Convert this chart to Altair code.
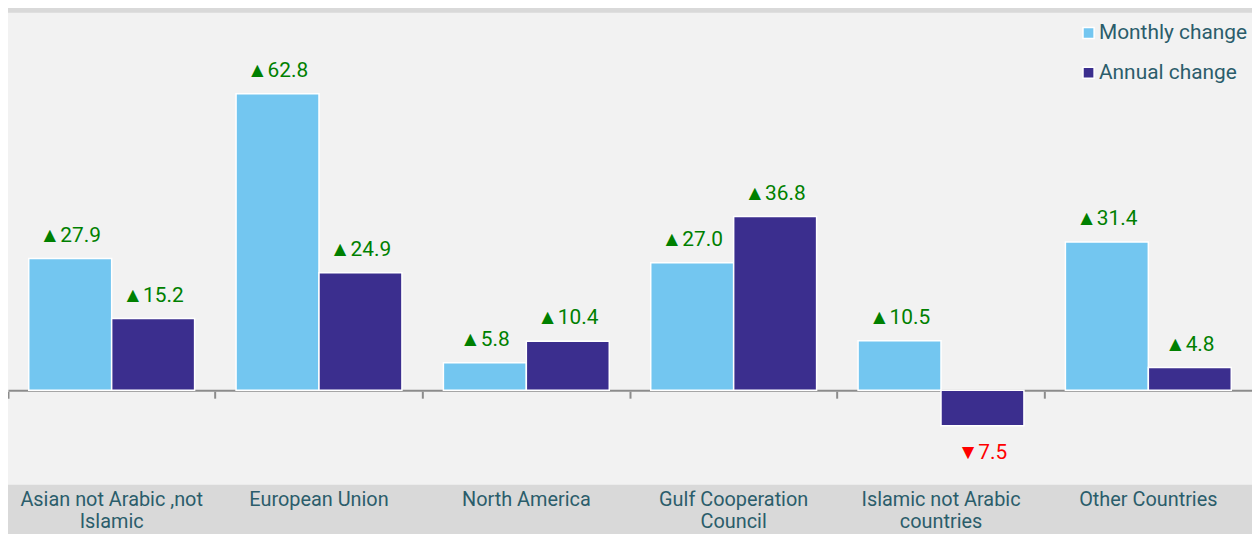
import altair as alt
import pandas as pd

categories = [
    "Asian not Arabic ,not Islamic",
    "European Union",
    "North America",
    "Gulf Cooperation Council",
    "Islamic not Arabic countries",
    "Other Countries",
]
monthly = [27.9, 62.8, 5.8, 27.0, 10.5, 31.4]
annual = [15.2, 24.9, 10.4, 36.8, -7.5, 4.8]
series_names = ["Monthly change", "Annual change"]
series_colors = ["#73c6f0", "#3b2e8e"]

wrapped = {
    "Asian not Arabic ,not Islamic": ["Asian not Arabic ,not", "Islamic"],
    "Gulf Cooperation Council": ["Gulf Cooperation", "Council"],
    "Islamic not Arabic countries": ["Islamic not Arabic", "countries"],
}

rows = []
for c, m, a in zip(categories, monthly, annual):
    rows.append({"category": c, "series": series_names[0], "value": m})
    rows.append({"category": c, "series": series_names[1], "value": a})
df = pd.DataFrame(rows)

label_expr = ""
for k, v in wrapped.items():
    arr = "[" + ",".join("'" + s + "'" for s in v) + "]"
    label_expr += f"datum.value == '{k}' ? {arr} : "
label_expr += "datum.value"

FONT = "Roboto"
TEXT_COLOR = "#2b5d6b"
AXIS_GRAY = "#8c8c8c"

x_main = alt.X(
    "category:N", sort=categories, scale=alt.Scale(paddingInner=0, paddingOuter=0),
    axis=alt.Axis(title=None, labelAngle=0, domain=False, ticks=False,
                  labelPadding=5, labelFontSize=20, labelFont=FONT,
                  labelColor=TEXT_COLOR, labelExpr=label_expr,
                  labelLineHeight=22, labelBaseline="top", labelLimit=400,
                  labelOverlap=False, orient="bottom"),
)
x_ticks = alt.X(
    "category:N", sort=categories,
    axis=alt.Axis(title=None, labels=False, domain=False, ticks=True,
                  tickSize=7, tickColor=AXIS_GRAY, tickWidth=2,
                  bandPosition=0, offset=-94, orient="bottom"),
)
x_plain = alt.X("category:N", sort=categories, axis=None)
x_off = alt.XOffset("series:N", sort=series_names,
                    scale=alt.Scale(paddingInner=0, paddingOuter=0.25))
y_enc = alt.Y("value:Q", scale=alt.Scale(domain=[-20, 80], nice=False, zero=False),
              axis=alt.Axis(values=[0], grid=True, gridColor=AXIS_GRAY, gridWidth=2,
                            labels=False, ticks=False, domain=False, title=None))

base = alt.Chart(df).transform_calculate(
    label="(datum.value >= 0 ? '▲' : '▼') + format(abs(datum.value), '.1f')",
)

bars = base.mark_bar(stroke="white", strokeWidth=1.5).encode(
    x=x_main,
    xOffset=x_off,
    y=y_enc,
    color=alt.Color(
        "series:N", sort=series_names,
        scale=alt.Scale(domain=series_names, range=series_colors),
        legend=alt.Legend(title=None, orient="none", legendX=1077, legendY=10,
                          symbolType="square", symbolSize=125,
                          symbolStrokeColor="white", symbolStrokeWidth=1.5,
                          labelFontSize=21, labelFont=FONT, labelColor=TEXT_COLOR,
                          rowPadding=18, labelOffset=0, padding=0),
    ),
)

ghost = base.mark_bar(opacity=0).encode(
    x=x_ticks,
    xOffset=x_off,
    y=y_enc,
)

pos_text = base.transform_filter("datum.value >= 0").mark_text(
    dy=-23, baseline="middle", fontSize=21, font=FONT, color="#008000"
).encode(x=x_plain, xOffset=x_off, y=y_enc, text="label:N")

neg_text = base.transform_filter("datum.value < 0").mark_text(
    dy=28, baseline="middle", fontSize=21, font=FONT, color="#ff0000"
).encode(x=x_plain, xOffset=x_off, y=y_enc, text="label:N")

chart = alt.layer(bars, ghost, pos_text, neg_text).resolve_axis(
    x="independent"
).properties(
    width=1252, height=475,
    padding={"left": 0, "right": 0, "top": 3, "bottom": 48},
    autosize=alt.AutoSizeParams(type="none"),
).configure(background="#d9d9d9").configure_view(fill="#f2f2f2", strokeWidth=0)

chart.save("out.html", embed_options={"renderer": "svg", "actions": False})
